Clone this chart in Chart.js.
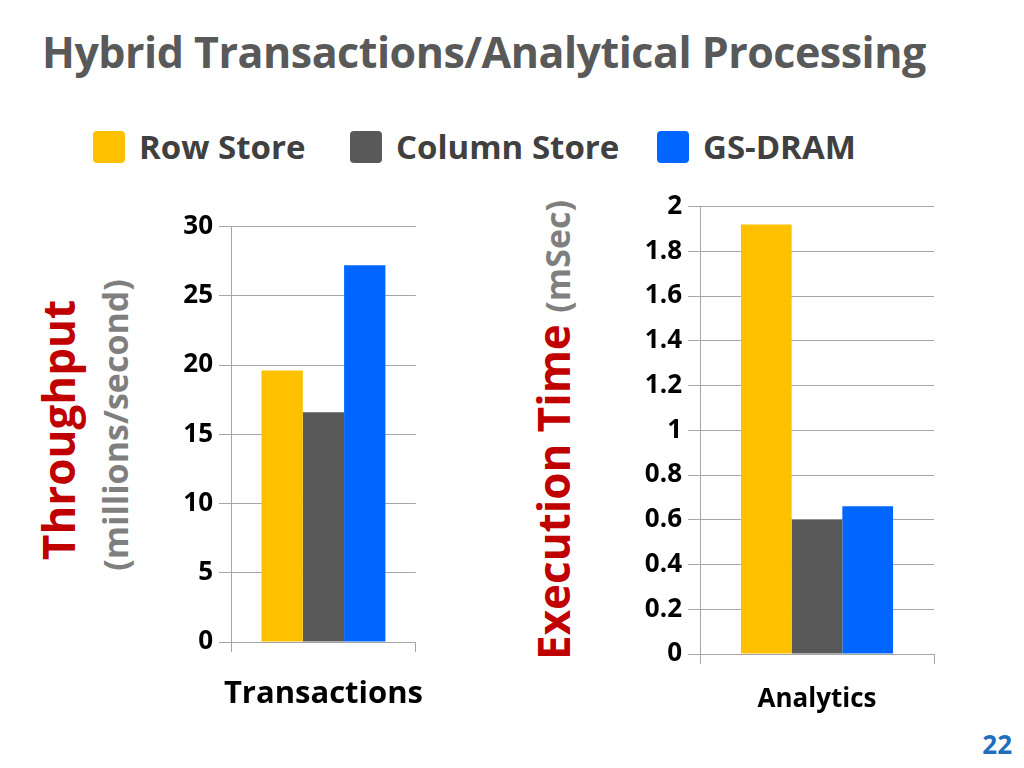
<!DOCTYPE html>
<html>
<head>
<meta charset="utf-8">
<script src="https://cdn.jsdelivr.net/npm/chart.js@4"></script>
<style>
  body { margin: 0; width: 1024px; height: 768px; background: #fff; position: relative; overflow: hidden; font-family: "Open Sans", sans-serif; }
  .title { position: absolute; left: 42px; top: 22px; font-size: 43px; font-weight: bold; color: #595959; letter-spacing: -0.5px; }
  .legend { position: absolute; top: 124px; font-size: 33px; font-weight: bold; color: #404040; display: flex; align-items: center; }
  .legend span.box { display: inline-block; width: 32px; height: 32px; border-radius: 4px; margin-right: 14px; }
  .ytitle { position: absolute; transform: translate(-50%, -50%) rotate(-90deg); white-space: nowrap; font-weight: bold; }
  .page { position: absolute; right: 12px; bottom: 6px; font-size: 26px; font-weight: bold; color: #1f6fbf; }
  canvas { position: absolute; }
</style>
</head>
<body>
<div class="title">Hybrid Transactions/Analytical Processing</div>
<div class="legend" style="left:93px"><span class="box" style="background:#ffc000"></span>Row Store</div>
<div class="legend" style="left:350px"><span class="box" style="background:#595959"></span>Column Store</div>
<div class="legend" style="left:657px"><span class="box" style="background:#0066ff"></span>GS-DRAM</div>

<div class="ytitle" style="left:58px; top:430px; font-size:44px; color:#c00000">Throughput</div>
<div class="ytitle" style="left:115px; top:425px; font-size:34px; color:#7f7f7f">(millions/second)</div>
<div class="ytitle" style="left:553px; top:430px; font-size:44px; color:#c00000">Execution Time <span style="font-size:34px; color:#7f7f7f">(mSec)</span></div>

<div style="position:absolute; left:140px; top:205px; width:310px; height:522px"><canvas id="left"></canvas></div>
<div style="position:absolute; left:620px; top:185px; width:320px; height:545px"><canvas id="right"></canvas></div>
<div class="page">22</div>

<script>
const seriesNames = ['Row Store', 'Column Store', 'GS-DRAM'];
const seriesColors = ['#ffc000', '#595959', '#0066ff'];
const throughputLabels = ['Transactions'];
const throughput = [19.6, 16.6, 27.2];
const execLabels = ['Analytics'];
const execTime = [1.92, 0.60, 0.66];

function makeChart(id, labels, values, yMax, yStep, yWidth, topPad, xHeight, xFont, xPad, catPct) {
  new Chart(document.getElementById(id), {
    type: 'bar',
    data: {
      labels: labels,
      datasets: seriesNames.map((n, i) => ({
        label: n, data: [values[i]], backgroundColor: seriesColors[i],
        barPercentage: 1, categoryPercentage: catPct
      }))
    },
    options: {
      responsive: true, maintainAspectRatio: false, animation: false,
      layout: { padding: { top: topPad, right: 6 } },
      plugins: { legend: { display: false }, tooltip: { enabled: false } },
      scales: {
        x: {
          grid: { drawOnChartArea: false, color: '#a6a6a6', tickLength: 10, offset: true },
          border: { color: '#a6a6a6' },
          ticks: { color: '#000', font: { family: 'Open Sans', size: xFont, weight: 'bold' }, padding: xPad },
          afterFit: a => { a.height = xHeight; }
        },
        y: {
          min: 0, max: yMax,
          grid: { color: '#a6a6a6', tickLength: 12 },
          border: { color: '#a6a6a6' },
          ticks: {
            stepSize: yStep, color: '#000', font: { family: 'Open Sans', size: 26, weight: 'bold' }, padding: 6,
            callback: v => String(Math.round(v * 10) / 10)
          },
          afterFit: a => { a.width = yWidth; }
        }
      }
    }
  });
}

makeChart('left', throughputLabels, throughput, 30, 5, 91, 8, 85, 31, 24, 0.67);
makeChart('right', execLabels, execTime, 2, 0.2, 80, 9, 76, 26, 20, 0.65);
</script>
</body>
</html>
